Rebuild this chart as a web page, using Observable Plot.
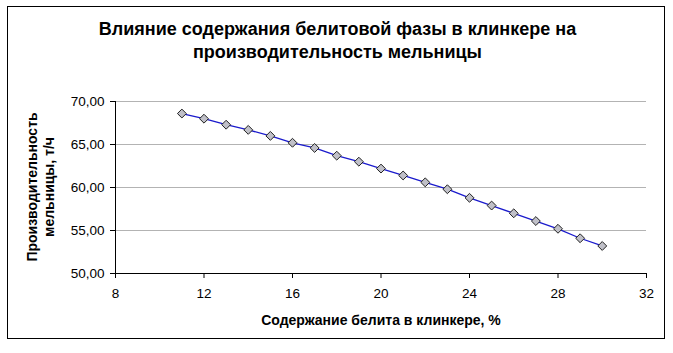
<!DOCTYPE html>
<html>
<head>
<meta charset="utf-8">
<script src="https://cdn.jsdelivr.net/npm/d3@7"></script>
<script src="https://cdn.jsdelivr.net/npm/@observablehq/plot@0.6"></script>
<style>
  html, body { margin: 0; padding: 0; background: #fff; }
  #wrap { position: relative; width: 673px; height: 353px; font-family: "Liberation Sans", Arial, sans-serif; }
  #frame { position: absolute; left: 7px; top: 6px; width: 658px; height: 333px; border: 1px solid #000; box-sizing: border-box; pointer-events: none; }
  #title { position: absolute; left: 0; width: 675px; top: 18px; text-align: center; font-weight: bold; font-size: 18px; line-height: 23px; color: #000; }
  #ylab { position: absolute; left: 41px; top: 187px; transform: translate(-50%, -50%) rotate(-90deg); text-align: center; font-weight: bold; font-size: 14px; line-height: 17px; white-space: nowrap; }
  #xlab { position: absolute; left: 0; width: 762px; top: 312px; text-align: center; font-weight: bold; font-size: 14px; }
  #chart { position: absolute; left: 0; top: 0; }
</style>
</head>
<body>
<div id="wrap">
  <div id="chart"></div>
  <div id="frame"></div>
  <div id="title">Влияние содержания белитовой фазы в клинкере на<br>производительность мельницы</div>
  <div id="ylab">Производительность<br>мельницы, т/ч</div>
  <div id="xlab">Содержание белита в клинкере, %</div>
</div>
<script>
const belite = [11, 12, 13, 14, 15, 16, 17, 18, 19, 20, 21, 22, 23, 24, 25, 26, 27, 28, 29, 30];
const output = [68.6, 68.0, 67.3, 66.7, 66.0, 65.2, 64.6, 63.7, 63.0, 62.2, 61.4, 60.6, 59.8, 58.8, 57.9, 57.0, 56.1, 55.2, 54.1, 53.2];
const xTicks = [8, 12, 16, 20, 24, 28, 32];
const yTicks = [50, 55, 60, 65, 70];
const gridTicks = [55, 60, 65, 70];

const data = belite.map((x, i) => ({x, y: output[i]}));
const fmt = d => d.toFixed(2).replace(".", ",");

const chart = Plot.plot({
  width: 673,
  height: 353,
  marginLeft: 115,
  marginRight: 27,
  marginTop: 101,
  marginBottom: 80,
  style: { fontFamily: "'Liberation Sans', Arial, sans-serif", fontSize: "13.5px", color: "#000", background: "transparent" },
  x: { domain: [8, 32] },
  y: { domain: [50, 70] },
  marks: [
    Plot.gridY(gridTicks, { stroke: "#b3b3b3", strokeOpacity: 1 }),
    Plot.axisY(yTicks, { tickSize: 5, tickPadding: 6, tickFormat: fmt, label: null, stroke: "#000" }),
    Plot.axisX(xTicks, { tickSize: 5, tickPadding: 10, tickFormat: d => String(d), label: null, stroke: "#000" }),
    Plot.ruleX([8], { stroke: "#000" }),
    Plot.ruleY([50], { stroke: "#000" }),
    Plot.line(data, { x: "x", y: "y", stroke: "#1a1acc", strokeWidth: 1.3 }),
    Plot.dot(data, { x: "x", y: "y", symbol: "diamond2", r: 4, fill: "#c0c0c8", stroke: "#222", strokeWidth: 1 })
  ]
});
document.getElementById("chart").appendChild(chart);
</script>
</body>
</html>
